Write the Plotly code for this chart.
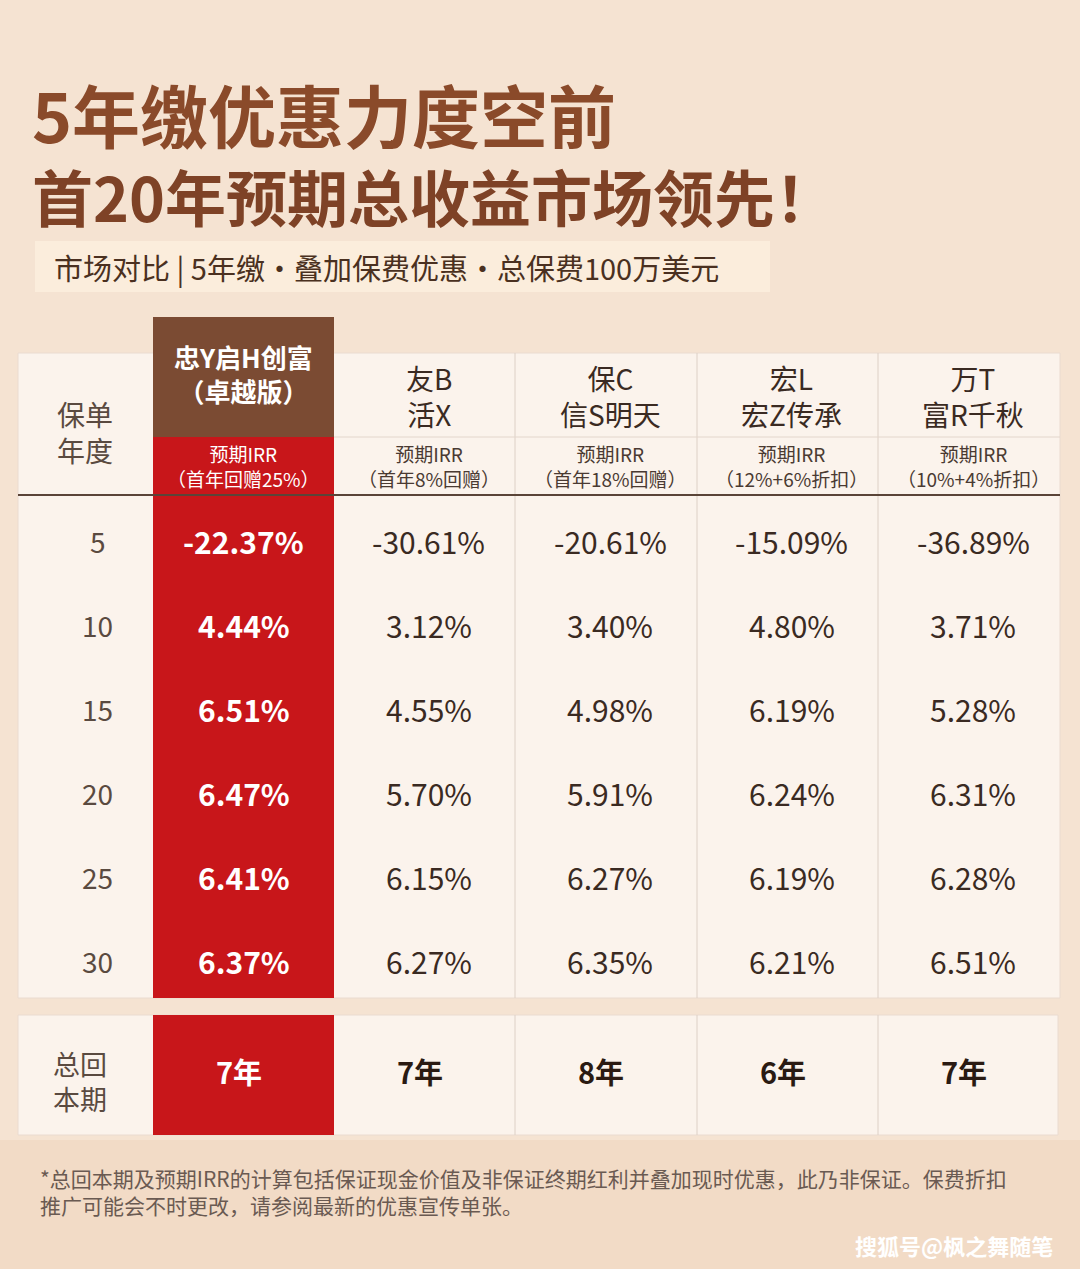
import plotly.graph_objects as go

years = ["5", "10", "15", "20", "25", "30"]
products = ["忠Y启H创富<br>（卓越版）", "友B<br>活X", "保C<br>信S明天", "宏L<br>宏Z传承", "万T<br>富R千秋"]
sub_head = ["预期IRR<br>（首年回赠25%）", "预期IRR<br>（首年8%回赠）", "预期IRR<br>（首年18%回赠）", "预期IRR<br>（12%+6%折扣）", "预期IRR<br>（10%+4%折扣）"]
irr = [
    ["-22.37%", "4.44%", "6.51%", "6.47%", "6.41%", "6.37%"],
    ["-30.61%", "3.12%", "4.55%", "5.70%", "6.15%", "6.27%"],
    ["-20.61%", "3.40%", "4.98%", "5.91%", "6.27%", "6.35%"],
    ["-15.09%", "4.80%", "6.19%", "6.24%", "6.19%", "6.21%"],
    ["-36.89%", "3.71%", "5.28%", "6.31%", "6.28%", "6.51%"],
]
payback = ["7年", "7年", "8年", "6年", "7年"]

F = "Noto Sans CJK SC"
col_edges = [18, 153, 334, 515, 697, 878, 1060]
col_c = [(col_edges[i] + col_edges[i + 1]) / 2 for i in range(6)]
row_y = [541 + 84 * i for i in range(6)]

fig = go.Figure()
shapes = []
ann = []

shapes.append(dict(type="rect", x0=0, x1=1080, y0=0, y1=1269, fillcolor="#f5e3d2", line_width=0, layer="below"))
shapes.append(dict(type="rect", x0=0, x1=1080, y0=1140, y1=1269, fillcolor="#f0d6be", line_width=0, layer="below", opacity=0.6))
shapes.append(dict(type="rect", x0=35, x1=770, y0=241, y1=292, fillcolor="#fbeddc", line_width=0, layer="below"))
shapes.append(dict(type="rect", x0=18, x1=1060, y0=353, y1=998, fillcolor="#fbf3ec", line=dict(color="#eadbd0", width=1), layer="below"))
shapes.append(dict(type="rect", x0=18, x1=1058, y0=1015, y1=1135, fillcolor="#fbf3ec", line=dict(color="#eadbd0", width=1), layer="below"))
shapes.append(dict(type="rect", x0=153, x1=334, y0=317, y1=437, fillcolor="#7b4b33", line_width=0))
shapes.append(dict(type="rect", x0=153, x1=334, y0=437, y1=998, fillcolor="#c8161a", line_width=0))
shapes.append(dict(type="rect", x0=153, x1=334, y0=1015, y1=1135, fillcolor="#c8161a", line_width=0))
for x in col_edges[3:6]:
    shapes.append(dict(type="line", x0=x, x1=x, y0=353, y1=998, line=dict(color="#ddd0c6", width=1)))
    shapes.append(dict(type="line", x0=x, x1=x, y0=1015, y1=1135, line=dict(color="#ddd0c6", width=1)))
shapes.append(dict(type="line", x0=334, x1=1060, y0=437, y1=437, line=dict(color="#e3d6cc", width=1)))
shapes.append(dict(type="line", x0=18, x1=1060, y0=495, y1=495, line=dict(color="#5a4438", width=2)))

def A(x, y, t, size, color, bold=False, xanchor="center", font=F):
    if bold:
        t = "<b>" + t + "</b>"
    ann.append(dict(x=x, y=y, xref="x", yref="y", text=t, showarrow=False, xanchor=xanchor, yanchor="middle",
                    font=dict(family=font, size=size, color=color)))

A(30, 113, "5年缴优惠力度空前", 68, "#8a4a2a", True, "left")
A(30, 195, "首20年预期总收益市场领先！", 61, "#7e4226", True, "left")
A(52, 267, "市场对比 | 5年缴・叠加保费优惠・总保费100万美元", 29, "#4a3020", False, "left")

A(85, 432, "保单<br>年度", 28, "#5a4a40")
for i, p in enumerate(products):
    dx = 0 if i == 0 else 4
    A(col_c[i + 1] + dx, 373 if i == 0 else 396, p, 26 if i == 0 else 28, "#ffffff" if i == 0 else "#3a2a22", i == 0)
    A(col_c[i + 1] + dx, 466, sub_head[i], 19, "#ffffff" if i == 0 else "#4a3a32")
for r, y in enumerate(row_y):
    A(col_c[0] + 12, y, years[r], 28, "#5a4a40")
    for i in range(5):
        dx = 0 if i == 0 else 4
        A(col_c[i + 1] + dx, y, irr[i][r], 30, "#ffffff" if i == 0 else "#3a2a22", i == 0)
A(80, 1081, "总回<br>本期", 27, "#5a4a40")
for i in range(5):
    A(col_c[i + 1] - 5, 1071, payback[i], 29, "#ffffff" if i == 0 else "#2a1a12", True)

ann.append(dict(x=38, y=1191, xref="x", yref="y", xanchor="left", yanchor="middle", showarrow=False, align="left",
                text="*总回本期及预期IRR的计算包括保证现金价值及非保证终期红利并叠加现时优惠，此乃非保证。保费折扣<br>推广可能会不时更改，请参阅最新的优惠宣传单张。",
                font=dict(family=F, size=21, color="#6a5a52")))
A(1055, 1245, "搜狐号@枫之舞随笔", 22, "#ffffff", True, "right")

fig.update_layout(width=1080, height=1269, margin=dict(l=0, r=0, t=0, b=0),
                  paper_bgcolor="#f5e3d2", plot_bgcolor="rgba(0,0,0,0)",
                  xaxis=dict(range=[0, 1080], visible=False, fixedrange=True),
                  yaxis=dict(range=[1269, 0], visible=False, fixedrange=True),
                  shapes=shapes, annotations=ann, showlegend=False)
fig.write_html("out.html", config={"displayModeBar": False},
               post_script="document.body.style.margin='0';document.body.style.background='#f5e3d2';")
